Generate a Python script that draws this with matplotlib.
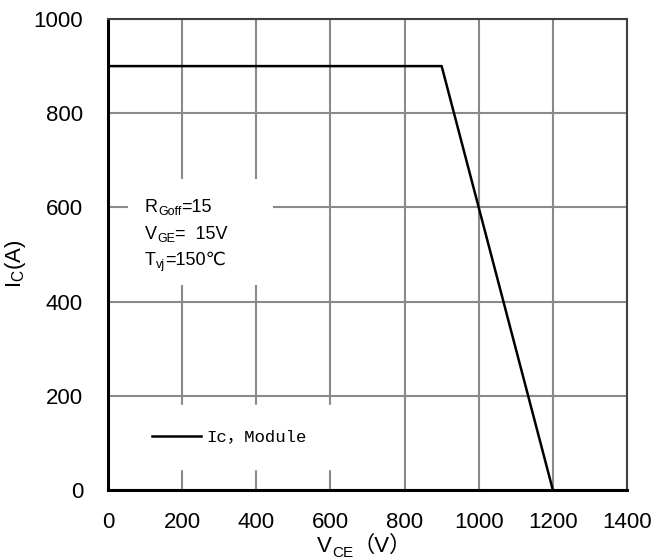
import matplotlib
matplotlib.use("Agg")
import matplotlib.pyplot as plt
from matplotlib.patches import Rectangle

# data
vce = [0, 900, 1200]
ic = [900, 900, 0]
series_label = "Ic，Module"
xticks = [0, 200, 400, 600, 800, 1000, 1200, 1400]
yticks = [0, 200, 400, 600, 800, 1000]
note_main = ["R", "V", "T"]
note_sub = ["Goff", "GE", "vj"]
note_rest = ["=15", "=  15V", "=150℃"]
xlabel_parts = ["V", "CE", "（V）"]

plt.rcParams['font.family'] = ['Liberation Sans', 'DejaVu Sans', 'Noto Sans CJK SC']
plt.rcParams['mathtext.fontset'] = 'custom'
plt.rcParams['mathtext.rm'] = 'Liberation Sans'
plt.rcParams['mathtext.it'] = 'Liberation Sans:italic'
plt.rcParams['mathtext.bf'] = 'Liberation Sans:bold'

W, H = 659, 560
fig = plt.figure(figsize=(W / 100, H / 100), dpi=100)
L, R, T, B = 108, 627, 19, 490
ax = fig.add_axes([L / W, 1 - B / H, (R - L) / W, (B - T) / H])

ax.set_xlim(0, 1400)
ax.set_ylim(0, 1000)
ax.set_xticks(xticks)
ax.set_yticks(yticks)
ax.set_axisbelow(True)
ax.grid(True, color='#8a8a8a', linewidth=1.5)
ax.tick_params(length=0, labelsize=16)
ax.tick_params(axis='x', pad=16)
ax.tick_params(axis='y', pad=18)

for s in ['left', 'bottom']:
    ax.spines[s].set_color('black')
    ax.spines[s].set_linewidth(2.2)
for s in ['top', 'right']:
    ax.spines[s].set_color('#404040')
    ax.spines[s].set_linewidth(1.5)

ax.plot(vce, ic, color='black', linewidth=1.8, label=series_label, zorder=3)

# white box behind the notes
ax.add_patch(Rectangle(((128 - L) / (R - L), (B - 285) / (B - T)),
                       145 / (R - L), 106 / (B - T), transform=ax.transAxes,
                       facecolor='white', edgecolor='none', zorder=1))

renderer = fig.canvas.get_renderer()


def pieces(x_px, base_px, parts):
    x = x_px
    for txt, size, dy in parts:
        t = fig.text(x / W, 1 - (base_px + dy) / H, txt, fontsize=size,
                     ha='left', va='baseline', zorder=5)
        bb = t.get_window_extent(renderer)
        x = bb.x1


note_y = [212, 239, 265]
for m, s, r, py in zip(note_main, note_sub, note_rest, note_y):
    pieces(145, py, [(m, 13, 0), (s, 9, 3), (r, 13, 0)])

leg = ax.legend(loc='center left', bbox_to_anchor=((128 - L) / (R - L), (B - 437) / (B - T)),
                borderaxespad=0, frameon=True, fancybox=False, framealpha=1,
                facecolor='white', edgecolor='white', handlelength=2.8,
                handletextpad=0.3, borderpad=1.4,
                prop={'family': ['Liberation Mono', 'Noto Sans CJK SC'], 'size': 12.5})

# y label
ax.set_ylabel(r"I$_{\mathrm{C}}$(A)", fontsize=16)
ax.yaxis.set_label_coords((28 - L) / (R - L), 0.48)

# x label in pieces
pieces(317, 552, [(xlabel_parts[0], 16, 0), (xlabel_parts[1], 11, 5), (xlabel_parts[2], 16, 0)])

fig.savefig("out.png", dpi=100)
